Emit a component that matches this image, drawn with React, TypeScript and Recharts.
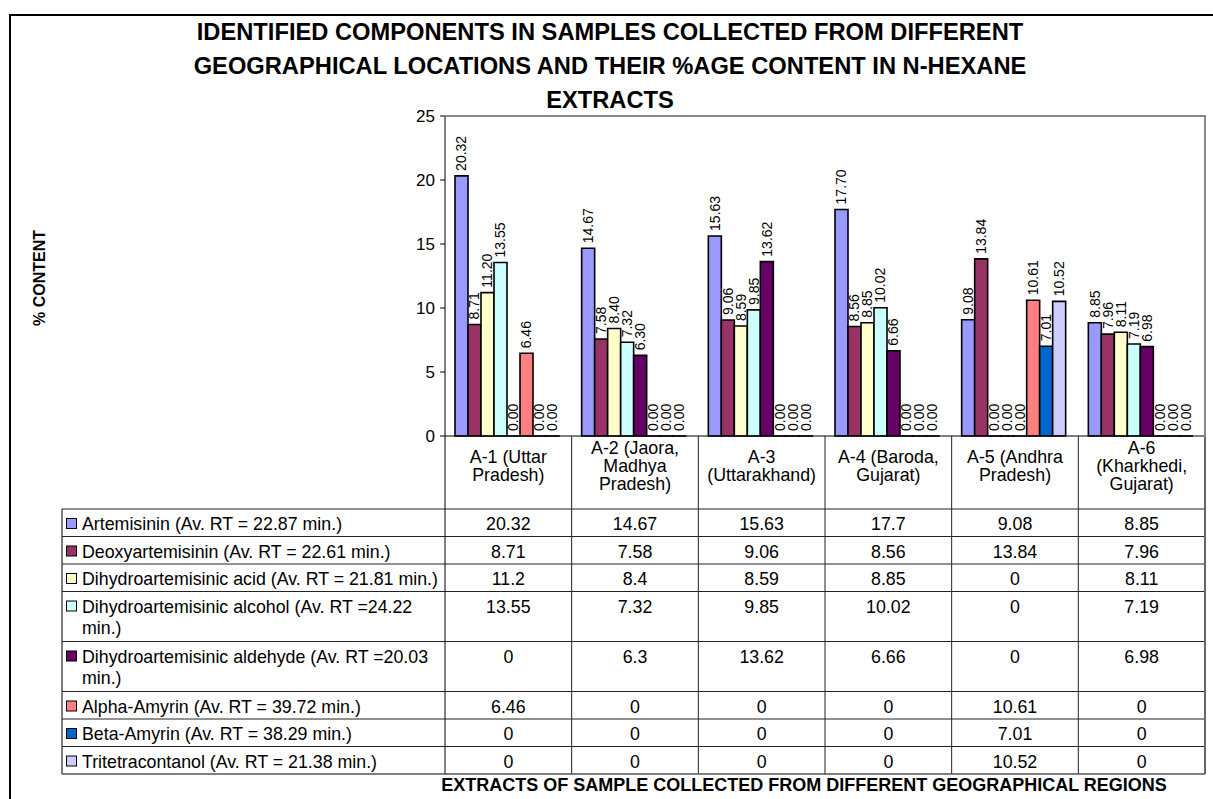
import React from "react";
import { BarChart, Bar, XAxis, YAxis, LabelList } from "recharts";

const CATEGORIES = [
  "A-1 (Uttar\nPradesh)",
  "A-2 (Jaora,\nMadhya\nPradesh)",
  "A-3\n(Uttarakhand)",
  "A-4 (Baroda,\nGujarat)",
  "A-5 (Andhra\nPradesh)",
  "A-6\n(Kharkhedi,\nGujarat)",
];

const SERIES_NAMES = [
  "Artemisinin (Av. RT = 22.87 min.)",
  "Deoxyartemisinin (Av. RT = 22.61 min.)",
  "Dihydroartemisinic acid (Av. RT = 21.81 min.)",
  "Dihydroartemisinic alcohol (Av. RT =24.22\nmin.)",
  "Dihydroartemisinic aldehyde (Av. RT =20.03\nmin.)",
  "Alpha-Amyrin (Av. RT = 39.72 min.)",
  "Beta-Amyrin (Av. RT = 38.29 min.)",
  "Tritetracontanol (Av. RT = 21.38 min.)",
];

const SERIES_COLORS = [
  "#9999FF",
  "#993366",
  "#FFFFCC",
  "#CCFFFF",
  "#660066",
  "#FF8080",
  "#0066CC",
  "#CCCCFF",
];

const ARTEMISININ = [20.32, 14.67, 15.63, 17.7, 9.08, 8.85];
const DEOXYARTEMISININ = [8.71, 7.58, 9.06, 8.56, 13.84, 7.96];
const DHA_ACID = [11.2, 8.4, 8.59, 8.85, 0, 8.11];
const DHA_ALCOHOL = [13.55, 7.32, 9.85, 10.02, 0, 7.19];
const DHA_ALDEHYDE = [0, 6.3, 13.62, 6.66, 0, 6.98];
const ALPHA_AMYRIN = [6.46, 0, 0, 0, 10.61, 0];
const BETA_AMYRIN = [0, 0, 0, 0, 7.01, 0];
const TRITETRACONTANOL = [0, 0, 0, 0, 10.52, 0];

const SERIES_VALUES = [
  ARTEMISININ,
  DEOXYARTEMISININ,
  DHA_ACID,
  DHA_ALCOHOL,
  DHA_ALDEHYDE,
  ALPHA_AMYRIN,
  BETA_AMYRIN,
  TRITETRACONTANOL,
];

const Y_TICKS = [0, 5, 10, 15, 20, 25];

const TITLE_LINES = [
  "IDENTIFIED COMPONENTS IN SAMPLES COLLECTED FROM DIFFERENT",
  "GEOGRAPHICAL LOCATIONS AND THEIR %AGE CONTENT IN N-HEXANE",
  "EXTRACTS",
];
const Y_TITLE = "% CONTENT";
const X_TITLE = "EXTRACTS OF SAMPLE COLLECTED FROM DIFFERENT GEOGRAPHICAL REGIONS";

const data = CATEGORIES.map((name, i) => {
  const row: Record<string, string | number> = { name };
  SERIES_VALUES.forEach((vals, s) => {
    row["s" + s] = vals[i];
  });
  return row;
});

// layout
const W = 1213;
const H = 799;
const PLOT_LEFT = 445;
const PLOT_TOP = 116;
const PLOT_RIGHT = 1205;
const PLOT_BOTTOM = 436;
const COL_W = (PLOT_RIGHT - PLOT_LEFT) / CATEGORIES.length;
const TABLE_LEFT = 62;
const HEADER_BOTTOM = 509;
const FONT = 'Arial, "Liberation Sans", sans-serif';
const TABLE_FONT = 17.8;

const rowTops: number[] = [];
let acc = HEADER_BOTTOM;
SERIES_NAMES.forEach((n) => {
  rowTops.push(acc);
  acc += n.split("\n").length > 1 ? 50 : 27.5;
});
const TABLE_BOTTOM = acc;

const BarLabel = (props: any) => {
  const vb = props.viewBox || {};
  const x = props.x ?? vb.x;
  const y = props.y ?? vb.y;
  const width = props.width ?? vb.width;
  const cx = x + width / 2;
  const ty = y - 5;
  return (
    <text
      x={cx}
      y={ty}
      transform={`rotate(-90 ${cx} ${ty})`}
      fontSize={14}
      fontFamily={FONT}
      fill="#000"
      textAnchor="start"
      dominantBaseline="central"
    >
      {Number(props.value).toFixed(2)}
    </text>
  );
};

const TableColumn = (props: any) => {
  const { x, payload } = props;
  const i = payload.index ?? props.index;
  const left = x - COL_W / 2;
  const right = x + COL_W / 2;
  const lines = String(payload.value).split("\n");
  const headCenter = 466;
  const firstCenter = headCenter - ((lines.length - 1) * 18) / 2;
  return (
    <g fontFamily={FONT} fontSize={TABLE_FONT} fill="#000">
      {lines.map((l, k) => (
        <text key={k} x={x} y={firstCenter + k * 18 + 6} textAnchor="middle">
          {l}
        </text>
      ))}
      {SERIES_VALUES.map((vals, s) => (
        <text key={"v" + s} x={x} y={rowTops[s] + 21} textAnchor="middle">
          {String(vals[i])}
        </text>
      ))}
      {rowTops.map((t, s) => (
        <line key={"h" + s} x1={left} x2={right} y1={t} y2={t} stroke="#222" strokeWidth={1} />
      ))}
      <line x1={left} x2={right} y1={TABLE_BOTTOM} y2={TABLE_BOTTOM} stroke="#555" strokeWidth={1.5} />
      <line
        x1={right}
        x2={right}
        y1={PLOT_BOTTOM}
        y2={TABLE_BOTTOM}
        stroke={i === CATEGORIES.length - 1 ? "#666" : "#222"}
        strokeWidth={i === CATEGORIES.length - 1 ? 2 : 1}
      />
      {i === 0 && (
        <g>
          <line x1={left} x2={left} y1={PLOT_BOTTOM} y2={TABLE_BOTTOM} stroke="#000" strokeWidth={1} />
          <line x1={TABLE_LEFT} x2={TABLE_LEFT} y1={HEADER_BOTTOM} y2={TABLE_BOTTOM} stroke="#555" strokeWidth={1.5} />
          <line x1={TABLE_LEFT} x2={left} y1={TABLE_BOTTOM} y2={TABLE_BOTTOM} stroke="#555" strokeWidth={1.5} />
          {SERIES_NAMES.map((n, s) => (
            <g key={"l" + s}>
              <line x1={TABLE_LEFT} x2={left} y1={rowTops[s]} y2={rowTops[s]} stroke="#222" strokeWidth={1} />
              <rect
                x={TABLE_LEFT + 4.5}
                y={rowTops[s] + 9.5}
                width={10}
                height={10}
                fill={SERIES_COLORS[s]}
                stroke="#000"
                strokeWidth={1}
              />
              {n.split("\n").map((l, k) => (
                <text key={k} x={TABLE_LEFT + 20} y={rowTops[s] + 21 + k * 21}>
                  {l}
                </text>
              ))}
            </g>
          ))}
        </g>
      )}
    </g>
  );
};

export default function App() {
  return (
    <div
      style={{
        position: "absolute",
        left: 0,
        top: 0,
        width: W,
        height: H,
        overflow: "hidden",
        background: "#fff",
        fontFamily: FONT,
      }}
    >
      <BarChart
        width={W}
        height={H}
        data={data}
        margin={{ top: PLOT_TOP, right: W - PLOT_RIGHT, bottom: 0, left: PLOT_LEFT - 60 }}
        barCategoryGap={10}
        barGap={0}
      >
        <XAxis
          dataKey="name"
          height={H - PLOT_BOTTOM}
          interval={0}
          tickLine={false}
          axisLine={{ stroke: "#000", strokeWidth: 1 }}
          tick={<TableColumn />}
        />
        <YAxis
          width={60}
          domain={[0, 25]}
          ticks={Y_TICKS}
          interval={0}
          tickSize={5}
          tickMargin={5}
          axisLine={{ stroke: "#000", strokeWidth: 1 }}
          tickLine={{ stroke: "#000" }}
          tick={{ fill: "#000", fontSize: 17, fontFamily: FONT }}
        />
        {SERIES_NAMES.map((n, s) => (
          <Bar
            key={n}
            dataKey={"s" + s}
            name={n}
            fill={SERIES_COLORS[s]}
            stroke="#000"
            strokeWidth={1.6}
            minPointSize={0.01}
            isAnimationActive={false}
          >
            <LabelList dataKey={"s" + s} content={<BarLabel />} />
          </Bar>
        ))}
      </BarChart>

      {/* plot area frame (top/right) */}
      <div
        style={{
          position: "absolute",
          left: PLOT_LEFT,
          top: PLOT_TOP - 1,
          width: PLOT_RIGHT - PLOT_LEFT - 1,
          height: PLOT_BOTTOM - PLOT_TOP,
          borderTop: "2px solid #888",
          borderRight: "2px solid #888",
          pointerEvents: "none",
        }}
      />

      {/* chart border */}
      <div
        style={{
          position: "absolute",
          left: 9,
          top: 14,
          width: 1400,
          height: 1000,
          border: "2px solid #000",
          pointerEvents: "none",
        }}
      />

      {TITLE_LINES.map((t, k) => (
        <div
          key={k}
          style={{
            position: "absolute",
            left: 0,
            width: 1220,
            top: 32 + k * 34 - 17,
            lineHeight: "34px",
            textAlign: "center",
            fontWeight: "bold",
            fontSize: 23.7,
            whiteSpace: "nowrap",
          }}
        >
          {t}
        </div>
      ))}

      <div
        style={{
          position: "absolute",
          left: 40,
          top: 278,
          transform: "translate(-50%, -50%) rotate(-90deg)",
          fontWeight: "bold",
          fontSize: 16,
          whiteSpace: "nowrap",
        }}
      >
        {Y_TITLE}
      </div>

      <div
        style={{
          position: "absolute",
          left: 804 - 450,
          width: 900,
          top: 775,
          lineHeight: "20px",
          textAlign: "center",
          fontWeight: "bold",
          fontSize: 18,
          whiteSpace: "nowrap",
        }}
      >
        {X_TITLE}
      </div>
    </div>
  );
}
